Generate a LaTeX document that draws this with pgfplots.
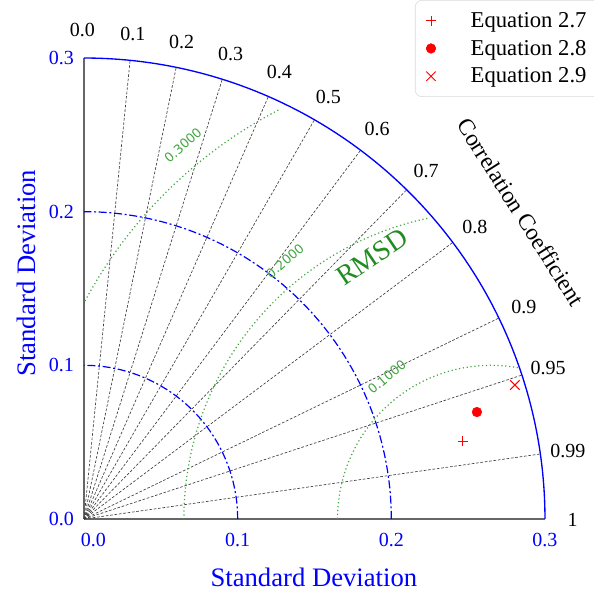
\documentclass[border=0pt]{standalone}
\usepackage{pgfplots}
\pgfplotsset{compat=1.18}
\usepackage{fontspec}
\setmainfont{Liberation Serif}
\newfontfamily\dejavu{DejaVu Sans}
\definecolor{cgreen}{rgb}{0.25,0.65,0.25}
\definecolor{rgreen}{rgb}{0.13,0.55,0.13}
\definecolor{ptred}{rgb}{1,0,0}
\begin{document}
\begin{tikzpicture}
\useasboundingbox (-63pt,-54.75pt) rectangle (382.5pt,389.25pt);
\begin{axis}[
  at={(0,0)}, anchor=south west,
  width=345.75pt, height=345.75pt, scale only axis,
  xmin=0, xmax=0.3, ymin=0, ymax=0.3,
  axis x line*=bottom, axis y line*=left,
  axis line style={black!60, line width=0.9pt, -},
  xtick={0,0.1,0.2,0.3}, ytick={0,0.1,0.2,0.3},
  xticklabels={\hspace*{14pt}0.0,0.1,0.2,0.3}, yticklabels={0.0,0.1,0.2,0.3},
  major tick length=0pt,
  tick label style={text=blue, font=\fontsize{15}{15}\selectfont},
  xticklabel style={yshift=-7pt},
  yticklabel style={xshift=-4pt},
  clip=false,
  legend style={at={(0.718,1.1258)}, anchor=north west, draw=black!15,
    rounded corners=5pt, font=\fontsize{17}{19}\selectfont,
    row sep=4pt, inner xsep=8pt, inner ysep=7pt},
  legend cell align=left,
]
% correlation lines
\pgfplotsinvokeforeach{0.1,0.2,0.3,0.4,0.5,0.6,0.7,0.8,0.9,0.95,0.99}{
  \draw[black!75, line width=0.5pt, dash pattern=on 2pt off 1.3pt]
    (axis cs:0,0) -- (axis cs:{0.3*#1},{0.3*sqrt(1-#1*#1)});
  \node[font=\fontsize{15}{15}\selectfont, yshift=-1pt]
    at (axis cs:{0.318*#1},{0.318*sqrt(1-#1*#1)}) {#1};
}
\node[font=\fontsize{15}{15}\selectfont] at (axis cs:-0.001,0.318) {0.0};
\node[font=\fontsize{15}{15}\selectfont, yshift=-1pt] at (axis cs:0.318,0) {1};
% standard deviation arcs
\addplot[forget plot, blue, line width=0.9pt, dash pattern=on 6pt off 2pt on 1.5pt off 2pt, domain=0:90, samples=90] ({0.1*cos(x)},{0.1*sin(x)});
\addplot[forget plot, blue, line width=0.9pt, dash pattern=on 6pt off 2pt on 1.5pt off 2pt, domain=0:90, samples=90] ({0.2*cos(x)},{0.2*sin(x)});
\addplot[forget plot, blue, line width=1pt, domain=0:90, samples=120] ({0.3*cos(x)},{0.3*sin(x)});
% RMSD contours around reference 0.265
\addplot[forget plot, cgreen, line width=0.9pt, dotted, domain=80:180, samples=80] ({0.265+0.1*cos(x)},{0.1*sin(x)});
\addplot[forget plot, cgreen, line width=0.9pt, dotted, domain=102:180, samples=80] ({0.265+0.2*cos(x)},{0.2*sin(x)});
\addplot[forget plot, cgreen, line width=0.9pt, dotted, domain=117.5:152.05, samples=60] ({0.265+0.3*cos(x)},{0.3*sin(x)});
\node[text=cgreen, font=\dejavu\fontsize{9.6}{10}\selectfont, rotate=42] at (axis cs:0.0644,0.2433) {0.3000};
\node[text=cgreen, font=\dejavu\fontsize{9.6}{10}\selectfont, rotate=41] at (axis cs:0.1308,0.1679) {0.2000};
\node[text=cgreen, font=\dejavu\fontsize{9.6}{10}\selectfont, rotate=40] at (axis cs:0.1971,0.0924) {0.1000};
\node[text=rgreen, font=\fontsize{21}{21}\selectfont, rotate=34] at (axis cs:0.1874,0.1705) {RMSD};
% labels
\node[text=blue, font=\fontsize{20}{20}\selectfont, rotate=90] at (axis cs:-0.0377,0.160) {Standard Deviation};
\node[text=blue, font=\fontsize{20}{20}\selectfont] at (axis cs:0.1496,-0.038) {Standard Deviation};
\node[font=\fontsize{17.5}{17.5}\selectfont, rotate=-57.7] at (axis cs:0.2843,0.1997) {Correlation Coefficient};
% data
\addplot[only marks, ptred, mark=+, mark size=3.8pt, line width=0.7pt] coordinates {(0.2466,0.0507)};
\addlegendentry{\hspace*{24pt}Equation 2.7}
\addplot[only marks, ptred, mark=*, mark size=3.6pt] coordinates {(0.2557,0.0696)};
\addlegendentry{\hspace*{24pt}Equation 2.8}
\addplot[only marks, ptred, mark=x, mark size=5pt, line width=0.7pt] coordinates {(0.2804,0.0872)};
\addlegendentry{\hspace*{24pt}Equation 2.9}
\end{axis}
\end{tikzpicture}
\end{document}
